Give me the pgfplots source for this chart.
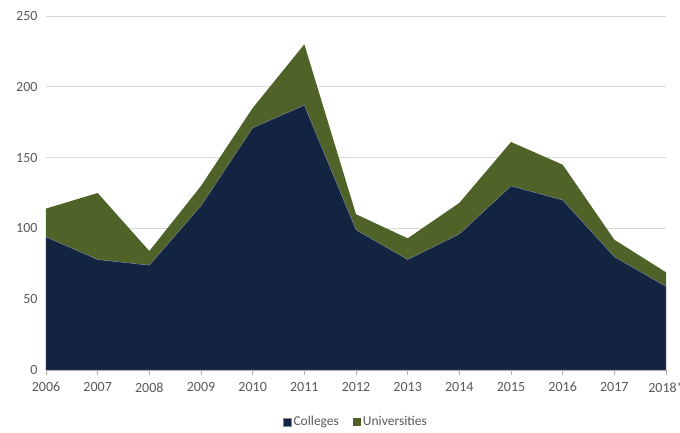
\documentclass[border=0pt]{standalone}
\usepackage{pgfplots}
\pgfplotsset{compat=1.18}
\usepackage{fontspec}
\setmainfont{Carlito}
\definecolor{navy}{HTML}{12243F}
\definecolor{olive}{HTML}{4F6228}
\definecolor{txt}{HTML}{595959}
\definecolor{gridc}{HTML}{D9D9D9}
\begin{document}
\begin{tikzpicture}
\begin{axis}[
  at={(46pt,63pt)}, anchor=south west,
  scale only axis, width=620pt, height=354pt,
  xmin=0, xmax=12, ymin=0, ymax=250,
  stack plots=y,
  axis lines*=left,
  axis line style={draw=none},
  x axis line style={draw=gridc!80!black, line width=0.8pt},
  xtick={0,...,12},
  xticklabels={2006,2007,2008,2009,2010,2011,2012,2013,2014,2015,2016,2017,2018*},
  ytick={0,50,...,250},
  ymajorgrids, grid style={gridc, line width=0.8pt},
  tick align=outside, major tick length=5pt,
  xtick style={draw=gridc!80!black, line width=0.8pt},
  ytick style={draw=none},
  ticklabel style={font=\fontsize{14}{16}\selectfont, text=txt},
  xticklabel style={yshift=-4pt},
  /pgf/number format/assume math mode=true,
  /pgf/number format/1000 sep={},
  legend style={at={(0.5,-0.147)}, anchor=center, draw=none, fill=none,
     legend columns=2, font=\fontsize{13.5}{15}\selectfont, text=txt,
     /tikz/every even column/.append style={column sep=12pt}},
  legend image code/.code={\fill[#1] (0pt,-4pt) rectangle (8pt,4pt);},
  clip=false,
]
\addplot[fill=navy, draw=navy!55!white, line width=0.4pt] coordinates {
(0,94) (1,78) (2,74) (3,116) (4,171) (5,187) (6,99) (7,78) (8,96) (9,130) (10,120) (11,80) (12,59)
} \closedcycle;
\addlegendentry{Colleges}
\addplot[fill=olive, draw=none] coordinates {
(0,20) (1,47) (2,10) (3,14) (4,14) (5,43) (6,11) (7,15) (8,22) (9,31) (10,25) (11,12) (12,10)
} \closedcycle;
\addlegendentry{Universities}
\end{axis}
\pgfresetboundingbox
\path[use as bounding box] (0,0) rectangle (680pt,433pt);
\end{tikzpicture}
\end{document}
